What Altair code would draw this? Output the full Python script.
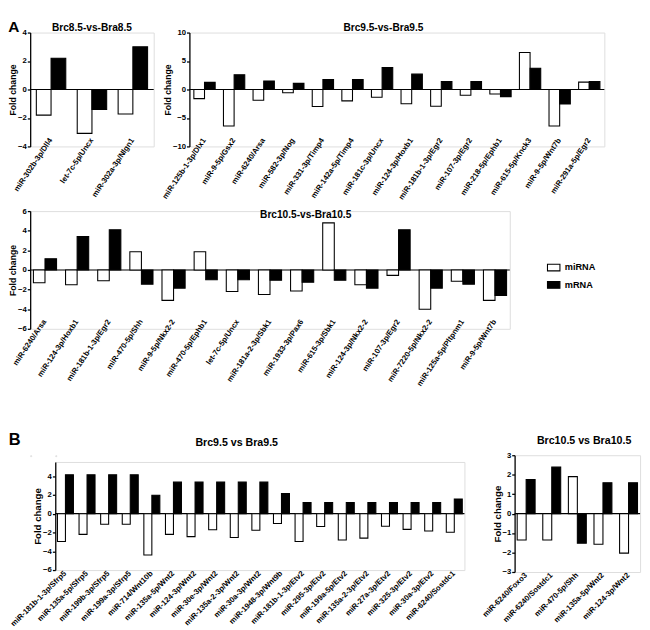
import altair as alt
import pandas as pd

FONT = "Liberation Sans"
TYPES = ["miRNA", "mRNA"]

# ---- Panel A : Brc8.5-vs-Bra8.5
a1_pairs = ["miR-302b-3p/Dll4", "let-7c-5p/Uncx", "miR-302a-3p/Nlgn1"]
a1_mirna = [-1.8, -3.08, -1.72]
a1_mrna = [2.2, -1.4, 3.0]

# ---- Panel A : Brc9.5-vs-Bra9.5
a2_pairs = ["miR-125b-1-3p/Dlx1", "miR-9-5p/Gsx2", "miR-6240/Arsa", "miR-582-3p/Nog",
            "miR-331-3p/Timp4", "miR-142a-5p/Timp4", "miR-181c-3p/Uncx", "miR-124-3p/Hoxb1",
            "miR-181b-1-3p/Egr2", "miR-107-3p/Egr2", "miR-218-5p/Ephb1", "miR-615-5p/Knck3",
            "miR-9-5p/Wnt7b", "miR-291a-5p/Egr2"]
a2_mirna = [-1.6, -6.4, -1.9, -0.57, -3.0, -2.0, -1.36, -2.5, -2.95, -1.0, -0.8, 6.5, -6.4, 1.3]
a2_mrna = [1.25, 2.6, 1.5, 1.08, 1.76, 1.76, 3.86, 2.7, 1.4, 1.4, -1.25, 3.75, -2.55, 1.4]

# ---- Panel A : Brc10.5-vs-Bra10.5
a3_pairs = ["miR-6240/Arsa", "miR-124-3p/Hoxb1", "miR-181b-1-3p/Egr2", "miR-470-5p/Shh",
            "miR-9-5p/Nkx2-2", "miR-470-5p/Ephb1", "let-7c-5p/Uncx", "miR-181a-2-3p/Sbk1",
            "miR-1933-3p/Pax6", "miR-615-3p/Sbk1", "miR-124-3p/Nkx2-2", "miR-107-3p/Egr2",
            "miR-7220-5p/Nkx2-2", "miR-125a-5p/Pltpnm1", "miR-9-5p/Wnt7b"]
a3_mirna = [-1.3, -1.5, -1.1, 1.85, -3.1, 1.85, -2.2, -2.5, -2.15, 4.8, -1.5, -0.55, -4.0, -1.15, -3.1]
a3_mrna = [1.15, 3.4, 4.1, -1.45, -1.85, -1.0, -1.0, -1.05, -1.25, -1.05, -1.85, 4.1, -1.85, -1.45, -2.6]

# ---- Panel B : Brc9.5 vs Bra9.5
b1_pairs = ["miR-181b-1-3p/Sfrp5", "miR-135a-5p/Sfrp5", "miR-199b-3p/Sfrp5", "miR-199a-3p/Sfrp5",
            "miR-714/Wnt10b", "miR-135a-5p/Wnt2", "miR-124-3p/Wnt2", "miR-30e-3p/Wnt2",
            "miR-135a-2-3p/Wnt2", "miR-30a-3p/Wnt2", "miR-1948-3p/Wnt9b", "miR-181b-1-3p/Etv2",
            "miR-295-3p/Etv2", "miR-199a-5p/Etv2", "miR-135a-2-3p/Etv2", "miR-27a-3p/Etv2",
            "miR-325-3p/Etv2", "miR-30a-3p/Etv2", "miR-6240/Sostdc1"]
b1_mirna = [-2.95, -2.2, -1.12, -1.12, -4.4, -2.2, -2.44, -1.7, -2.54, -1.76, -1.05, -2.95,
            -1.36, -2.8, -2.6, -1.33, -1.67, -1.84, -1.97]
b1_mrna = [4.14, 4.14, 4.14, 4.14, 1.97, 3.36, 3.36, 3.36, 3.36, 3.36, 2.14, 1.19,
           1.19, 1.19, 1.19, 1.19, 1.19, 1.19, 1.56]

# ---- Panel B : Brc10.5 vs Bra10.5
b2_pairs = ["miR-6240/Foxo3", "miR-6240/Sostdc1", "miR-470-5p/Shh", "miR-135a-5p/Wnt2", "miR-124-3p/Wnt2"]
b2_mirna = [-1.36, -1.36, 1.9, -1.57, -2.03]
b2_mrna = [1.75, 2.39, -1.52, 1.59, 1.59]

LEG_X = 537
LEG_Y = 238


def panel(pairs, mirna, mrna, domain, ticks, width, height, title, angle, xoff,
          title_dx=0, title_size=10.5, ytitle_size=9, pad_outer=0.15, pad_inner=0.28,
          title_offset=4):
    df = pd.DataFrame({
        "pair": pairs + pairs,
        "type": ["miRNA"] * len(pairs) + ["mRNA"] * len(pairs),
        "value": mirna + mrna,
    })
    yscale = alt.Scale(domain=domain, nice=False, zero=False)
    yaxis = alt.Axis(values=ticks, title="Fold change", grid=False,
                     labelOverlap=False, labelBound=False, labelFlush=False,
                     domainColor="black", domainWidth=1.3, tickColor="black",
                     tickWidth=1.3, tickSize=3, labelFontSize=8,
                     labelFontWeight="bold", labelFont=FONT, labelColor="black",
                     labelPadding=1, titleFontSize=ytitle_size, titleFontWeight="bold",
                     titleFont=FONT, titleColor="black", titlePadding=0)
    zero = alt.Chart(pd.DataFrame({"value": [0]})).mark_rule(color="black", strokeWidth=1.2).encode(
        y=alt.Y("value:Q", scale=yscale, axis=yaxis)
    )
    bars = alt.Chart(df).mark_bar(stroke="black", strokeWidth=1.1).encode(
        x=alt.X("pair:N", sort=pairs,
                scale=alt.Scale(paddingInner=pad_inner, paddingOuter=pad_outer),
                axis=alt.Axis(title=None, labelAngle=angle, labelAlign="right",
                              labelBaseline="middle", domain=False, ticks=False,
                              offset=xoff, labelPadding=2, labelOverlap=False,
                              labelFontSize=8, labelFontWeight="bold", labelFont=FONT,
                              labelColor="black", labelLimit=200)),
        xOffset=alt.XOffset("type:N", sort=TYPES, scale=alt.Scale(paddingInner=0, paddingOuter=0)),
        y=alt.Y("value:Q", scale=yscale, axis=yaxis),
        fill=alt.Fill("type:N", scale=alt.Scale(domain=TYPES, range=["white", "black"]),
                      legend=alt.Legend(title=None, orient="none", legendX=LEG_X, legendY=LEG_Y,
                                        symbolType="M-1.4,-0.75H1.4V0.75H-1.4Z",
                                        symbolSize=85, symbolStrokeColor="black",
                                        symbolStrokeWidth=1.1, labelFont=FONT,
                                        labelFontSize=9.5, labelFontWeight="bold",
                                        labelColor="black", rowPadding=5, labelOffset=6)),
    )
    return alt.layer(zero, bars).properties(
        width=width, height=height,
        title=alt.TitleParams(title, fontSize=title_size, fontWeight="bold", font=FONT,
                              color="black", dx=title_dx, offset=title_offset),
    )


A1 = panel(a1_pairs, a1_mirna, a1_mrna, [-4, 4], [-4, -2, 0, 2, 4], 128, 118,
           "Brc8.5-vs-Bra8.5", -56, -10, title_offset=-5)
A2 = panel(a2_pairs, a2_mirna, a2_mrna, [-10, 10], [-10, -5, 0, 5, 10], 430, 118,
           "Brc9.5-vs-Bra9.5", -56, -10, title_dx=-14, title_offset=-5)
A3 = panel(a3_pairs, a3_mirna, a3_mrna, [-6, 6], [-6, -4, -2, 0, 2, 4, 6], 497, 122,
           "Brc10.5-vs-Bra10.5", -56, -11, title_dx=37, pad_outer=0.1, title_offset=-14)
B1 = panel(b1_pairs, b1_mirna, b1_mrna, [-6, 5.5], [-6, -4, -2, 0, 2, 4], 424, 112,
           "Brc9.5 vs Bra9.5", -45, 0, title_dx=-24, title_size=11, ytitle_size=10,
           pad_outer=0.1, pad_inner=0.26, title_offset=15)
B2 = panel(b2_pairs, b2_mirna, b2_mrna, [-3, 3], [-3, -2, -1, 0, 1, 2, 3], 130, 121,
           "Brc10.5 vs Bra10.5", -45, 0, title_dx=7, title_size=11, ytitle_size=10,
           pad_outer=0.1, pad_inner=0.3, title_offset=6)


def spacer():
    # invisible 1px cell used only to nudge neighbouring panels
    return alt.Chart(pd.DataFrame({"s": [0]})).mark_point(opacity=0).encode(
        x=alt.X("s:Q", axis=None), y=alt.Y("s:Q", axis=None)
    ).properties(width=1, height=1)


row1 = alt.hconcat(A1, A2, spacing=4).resolve_scale(xOffset="independent")
A_block = alt.vconcat(row1, A3, spacing=4).properties(
    title=alt.TitleParams("A", anchor="start", fontSize=16, fontWeight="bold", font=FONT,
                          color="black", offset=-12)
).resolve_scale(xOffset="independent")
B1_lowered = alt.vconcat(spacer(), B1, spacing=-24).resolve_scale(xOffset="independent")
B_left = alt.hconcat(spacer(), B1_lowered, spacing=-27).resolve_scale(xOffset="independent")
B_block = alt.hconcat(B_left, B2, spacing=14).properties(
    title=alt.TitleParams("B", anchor="start", fontSize=17, fontWeight="bold", font=FONT,
                          color="black", offset=-15)
).resolve_scale(xOffset="independent")

chart = alt.vconcat(A_block, B_block, spacing=44).resolve_scale(
    xOffset="independent"
).properties(
    padding={"left": 0, "top": 0, "right": 0, "bottom": 0}
).configure_view(strokeWidth=0).configure(background="white")

chart.save("out.html", embed_options={"renderer": "svg", "actions": False})
